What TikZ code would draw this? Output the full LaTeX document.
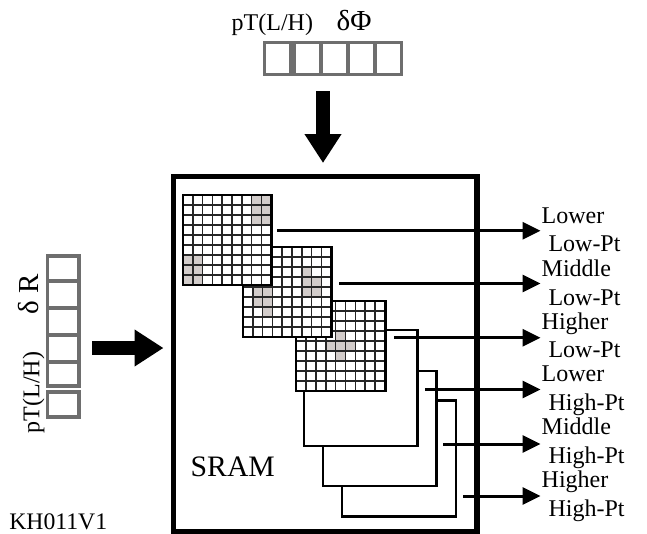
\documentclass[tikz,border=0pt]{standalone}
\usepackage{fontspec}
\setmainfont{Liberation Serif}
\usetikzlibrary{arrows.meta}
\definecolor{regline}{HTML}{6E6E6E}
\definecolor{hitcell}{HTML}{D2CCCA}
\newcommand{\fsz}[1]{\fontsize{#1}{#1}\selectfont}
\newcommand{\lutgrid}[5]{% x0,y0,cellw,cellh,grey cells
  \fill[white] (#1,#2) rectangle ({#1+9*#3},{#2+9*#4});
  \foreach \c/\r in {#5} \fill[hitcell] ({#1+\c*#3},{#2+\r*#4}) rectangle ({#1+(\c+1)*#3},{#2+(\r+1)*#4});
  \foreach \i in {1,...,8} {
    \draw[gridthin] ({#1+\i*#3},#2) -- ({#1+\i*#3},{#2+9*#4});
    \draw[gridthin] (#1,{#2+\i*#4}) -- ({#1+9*#3},{#2+\i*#4});
  }
  \draw[gridouter] (#1,#2) rectangle ({#1+9*#3},{#2+9*#4});
}
\tikzset{
  gridthin/.style={line width=1.7pt,color=black!85},
  gridouter/.style={line width=2.8pt,color=black},
  regcell/.style={draw=regline,line width=3.2pt,fill=white},
  plainsq/.style={draw=black,line width=2.6pt,fill=white},
  sram/.style={draw=black,line width=5.5pt},
  outarrow/.style={draw=black,line width=3pt,-{Triangle[length=18pt,width=17pt]}},
  bigarrow/.style={draw=black,line width=14.5pt,-{Triangle[length=29pt,width=35pt]}},
  lab/.style={anchor=base west,inner sep=0pt,outer sep=0pt,font=\fsz{24}},
}
\begin{document}
\begin{tikzpicture}[x=1pt,y=-1pt]
\useasboundingbox (0,0) rectangle (647,533);
% top register
\foreach \a/\b in {264.5/291,294/321,321/348,348/375,375/401.5}
  \draw[regcell] (\a,42.2) rectangle (\b,74.8);
% left register
\foreach \a/\b in {256/281,281/308,308/335,335/362,362/386,392/417}
  \draw[regcell] (47.5,\a) rectangle (79,\b);
% SRAM
\draw[sram] (173.5,176.5) rectangle (477,531.5);
\draw[plainsq] (342,400.5) rectangle (456,516.5);
\draw[plainsq] (323,371) rectangle (436.5,486);
\draw[plainsq] (304,330) rectangle (417.3,446);
\lutgrid{296}{301}{9.9}{10}{4/3,3/4,4/4,5/4,4/5}
\lutgrid{243}{247}{9.8}{10}{1/4,2/4,1/5,2/5,2/6,6/2,6/3,7/3,6/4,7/4}
\lutgrid{183}{195}{9.8}{10}{7/0,8/0,7/1,8/1,7/2,8/2,0/6,1/6,0/7,1/7,0/8,1/8}
% big arrows
\coordinate (topA) at (323,91);
\coordinate (topB) at (323,163);
\coordinate (leftA) at (92,348);
\coordinate (leftB) at (163.5,348);
\draw[bigarrow] (topA) -- (topB);
\draw[bigarrow] (leftA) -- (leftB);
% output arrows
\foreach \n/\xs/\yy in {a/277/230.7,b/339/283.5,c/394/337.7,d/425/389.5,e/443/444,f/463/496}{
  \coordinate (s\n) at (\xs,\yy);
  \coordinate (t\n) at (540.5,\yy);
  \draw[outarrow] (s\n) -- (t\n);
}
% labels
\node[lab] (l1a) at (541.7,223) {Lower};
\node[lab] (l1b) at (548.5,251.7) {Low-Pt};
\node[lab] (l2a) at (541.7,276) {Middle};
\node[lab] (l2b) at (548.5,305) {Low-Pt};
\node[lab] (l3a) at (541.7,329) {Higher};
\node[lab] (l3b) at (548.5,357.7) {Low-Pt};
\node[lab] (l4a) at (541.7,381.7) {Lower};
\node[lab] (l4b) at (548.5,410.7) {High-Pt};
\node[lab] (l5a) at (541.7,434) {Middle};
\node[lab] (l5b) at (548.5,463.3) {High-Pt};
\node[lab] (l6a) at (541.7,487.3) {Higher};
\node[lab] (l6b) at (548.5,516.7) {High-Pt};
\node[lab] (toppt) at (231.7,30) {pT(L/H)};
\node[lab,font=\fsz{29}] (topdp) at (336.7,30) {δΦ};
\node[lab,rotate=90] (leftpt) at (39.3,433) {pT(L/H)};
\node[lab,rotate=90,font=\fsz{29}] (leftdr) at (38,314) {δ R};
\node[lab,font=\fsz{29.7}] (sramlab) at (190.7,476.7) {SRAM};
\node[lab,font=\fsz{23.7}] (kh) at (9.3,529) {KH011V1};
\end{tikzpicture}
\end{document}
